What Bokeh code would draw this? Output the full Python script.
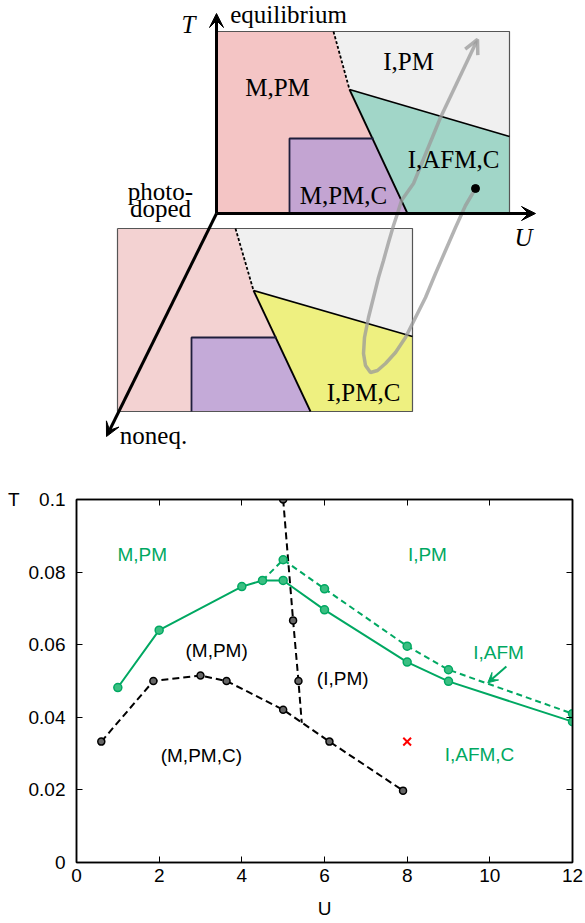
from bokeh.plotting import figure
from bokeh.layouts import column
from bokeh.models import (Range1d, LinearAxis, FixedTicker, Arrow, VeeHead,
                          OpenHead, ColumnDataSource)
from bokeh.core.properties import value
from bokeh.embed import file_html
from bokeh.resources import INLINE

# ================= bottom plot data =================
x_ticks = [0, 2, 4, 6, 8, 10, 12]
x_tick_labels = ["0", "2", "4", "6", "8", "10", "12"]
y_ticks = [0, 0.02, 0.04, 0.06, 0.08, 0.1]
y_tick_labels = ["0", "0.02", "0.04", "0.06", "0.08", "0.1"]

afm_solid_U = [1, 2, 4, 4.5, 5, 6, 8, 9, 12]
afm_solid_T = [0.0482, 0.0640, 0.0760, 0.0777, 0.0777, 0.0696, 0.0552, 0.0499, 0.0388]
afm_dash_U = [4.5, 5, 6, 8, 9, 12]
afm_dash_T = [0.0777, 0.0834, 0.0754, 0.0596, 0.0531, 0.0410]
mpmc_U = [0.6, 1.86, 3.0, 3.63, 5.0, 6.12, 7.9]
mpmc_T = [0.0333, 0.0500, 0.0515, 0.0500, 0.0421, 0.0333, 0.0198]
mit_U = [5.0, 5.24, 5.37, 5.45]
mit_T = [0.1, 0.0667, 0.0500, 0.0385]
mit_marker_count = 3
cross_U = [8.0]
cross_T = [0.0333]

plot_label_U = [1.59, 3.39, 8.49, 10.21, 6.44, 3.02, 9.75]
plot_label_T = [0.0848, 0.0584, 0.0848, 0.0579, 0.0507, 0.0295, 0.0298]
plot_label_text = ["M,PM", "(M,PM)", "I,PM", "I,AFM", "(I,PM)", "(M,PM,C)", "I,AFM,C"]
plot_label_color = ["green", "black", "green", "green", "black", "black", "green"]

afm_arrow_U = [10.4, 9.95]
afm_arrow_T = [0.0540, 0.0495]

y_name_tick = [0.1]
y_name = "T"
x_name = "U"

# ================= schematic data (page pixels) =================
eq_pink_x = [216, 333, 349, 407, 216]
eq_pink_y = [31, 31, 89, 213, 213]
eq_gray_x = [333, 509, 509, 349]
eq_gray_y = [31, 31, 136, 89]
eq_teal_x = [349, 509, 509, 407]
eq_teal_y = [89, 136, 213, 213]
eq_purple_x = [289, 373, 407, 289]
eq_purple_y = [138, 138, 213, 213]
eq_frame_x = [216, 509, 509]
eq_frame_y = [31, 31, 213]
eq_solid_xs = [[349, 407], [349, 509]]
eq_solid_ys = [[89, 213], [89, 136]]
eq_box_x = [289, 289, 373]
eq_box_y = [213, 138, 138]
eq_dash_x = [333, 349]
eq_dash_y = [31, 89]

ne_pink_x = [117, 235, 253, 310, 117]
ne_pink_y = [228, 228, 290, 411, 411]
ne_gray_x = [235, 412, 412, 253]
ne_gray_y = [228, 228, 336, 290]
ne_yellow_x = [253, 412, 412, 310]
ne_yellow_y = [290, 336, 411, 411]
ne_purple_x = [191, 276, 310, 191]
ne_purple_y = [337, 337, 411, 411]
ne_frame_x = [117, 412, 412, 117, 117]
ne_frame_y = [228, 228, 411, 411, 228]
ne_solid_xs = [[253, 310], [253, 412]]
ne_solid_ys = [[290, 411], [290, 336]]
ne_box_x = [191, 191, 276]
ne_box_y = [411, 337, 337]
ne_dash_x = [235, 253]
ne_dash_y = [228, 290]

axis_start = (216, 213)
axis_T_end = (216, 13)
axis_U_end = (535, 213)
axis_N_end = (106, 436)

traj_x = [475, 465, 455, 445, 435, 425, 415, 405, 395, 385, 377, 370, 365, 363,
          364, 368, 373, 378, 383, 388, 393, 397, 401, 413, 440]
traj_y = [188, 205, 227, 250, 273, 297, 317, 337, 352, 363, 370, 372, 365, 353,
          337, 317, 297, 277, 260, 242, 225, 213, 200, 183, 117]
traj_tip = (477, 39)
dot_x = [475]
dot_y = [188]

sch_text = ["equilibrium", "photo-", "doped", "noneq.", "I,PM", "M,PM",
            "I,AFM,C", "M,PM,C", "I,PM,C"]
sch_text_x = [288, 160, 160, 153, 408, 277, 453, 343, 363]
sch_text_y = [14, 191, 208, 435, 61, 87, 159, 195, 392]
sch_italic = ["T", "U"]
sch_italic_x = [188, 523]
sch_italic_y = [24, 237]

GREEN = "#00a862"
SERIF = "Liberation Serif"
SANS = "Liberation Sans"

# ================= layout geometry =================
W = 585
H1 = 460
H2 = 463
B_LEFT = 76
B_RIGHT = 13

# ================= schematic figure =================
top = figure(width=W, height=H1, x_range=Range1d(B_LEFT, W - B_RIGHT), y_range=Range1d(H1, 0),
             x_axis_type=None, y_axis_type=None, toolbar_location=None,
             output_backend="svg", min_border_left=B_LEFT, min_border_right=B_RIGHT,
             min_border_top=0, min_border_bottom=0, outline_line_color=None)
top.grid.visible = False

top.patch(ne_pink_x, ne_pink_y, fill_color="#f3d2d2", line_color=None)
top.patch(ne_gray_x, ne_gray_y, fill_color="#f0f0f0", line_color=None)
top.patch(ne_yellow_x, ne_yellow_y, fill_color="#eef080", line_color=None)
top.patch(ne_purple_x, ne_purple_y, fill_color="#c4aad8", line_color=None)
top.line(ne_frame_x, ne_frame_y, line_color="#555555", line_width=1.2)
top.multi_line(ne_solid_xs, ne_solid_ys, line_color="black", line_width=1.8)
top.line(ne_box_x, ne_box_y, line_color="#1e1e3c", line_width=1.8)
top.line(ne_dash_x, ne_dash_y, line_color="black", line_width=1.8, line_dash="3 2")

top.patch(eq_pink_x, eq_pink_y, fill_color="#f4c5c5", line_color=None)
top.patch(eq_gray_x, eq_gray_y, fill_color="#f0f0f0", line_color=None)
top.patch(eq_teal_x, eq_teal_y, fill_color="#a1d6c8", line_color=None)
top.patch(eq_purple_x, eq_purple_y, fill_color="#c3a4d2", line_color=None)
top.line(eq_frame_x, eq_frame_y, line_color="#555555", line_width=1.2)
top.multi_line(eq_solid_xs, eq_solid_ys, line_color="black", line_width=1.8)
top.line(eq_box_x, eq_box_y, line_color="#1e1e3c", line_width=1.8)
top.line(eq_dash_x, eq_dash_y, line_color="black", line_width=1.8, line_dash="3 2")

for end in (axis_T_end, axis_U_end, axis_N_end):
    top.add_layout(Arrow(x_start=axis_start[0], y_start=axis_start[1], x_end=end[0], y_end=end[1],
                         line_width=3, line_color="black",
                         end=VeeHead(size=14, fill_color="black", line_color="black")))

top.line(traj_x, traj_y, line_color="#9a9a9a", line_alpha=0.75, line_width=3.5)
top.add_layout(Arrow(x_start=traj_x[-1], y_start=traj_y[-1], x_end=traj_tip[0], y_end=traj_tip[1],
                     line_width=3.5, line_color="#9a9a9a", line_alpha=0.75,
                     end=OpenHead(size=14, line_color="#9a9a9a", line_alpha=0.75, line_width=3.5)))
top.scatter(dot_x, dot_y, size=8, color="black")

top.text(sch_text_x, sch_text_y, text=sch_text, text_font=value(SERIF), text_font_size="25px",
         text_align="center", text_baseline="middle", text_color="black")
top.text(sch_italic_x, sch_italic_y, text=sch_italic, text_font=value(SERIF), text_font_size="25px",
         text_font_style="italic", text_align="center", text_baseline="middle", text_color="black")

# ================= phase diagram figure =================
bot = figure(width=W, height=H2, x_range=Range1d(0, 12), y_range=Range1d(0, 0.1),
             toolbar_location=None, output_backend="svg",
             min_border_left=B_LEFT, min_border_right=B_RIGHT, min_border_top=39, min_border_bottom=61,
             outline_line_color="black", outline_line_width=1.5)
bot.grid.visible = False

for ax in (bot.xaxis[0], bot.yaxis[0]):
    ax.major_tick_in = 6
    ax.major_tick_out = 0
    ax.minor_tick_line_color = None
    ax.axis_line_width = 1.5
    ax.major_label_text_font = SANS
    ax.major_label_text_font_size = "19px"
    ax.major_label_text_color = "black"
bot.xaxis.ticker = FixedTicker(ticks=x_ticks)
bot.yaxis.ticker = FixedTicker(ticks=y_ticks)
bot.xaxis.major_label_overrides = {t: s for t, s in zip(x_ticks, x_tick_labels)}
bot.yaxis.major_label_overrides = {t: s for t, s in zip(y_ticks, y_tick_labels)}
bot.xaxis.major_label_standoff = 6
bot.yaxis.major_label_standoff = 11
bot.xaxis.axis_label = x_name
bot.xaxis.axis_label_text_font = SANS
bot.xaxis.axis_label_text_font_size = "19px"
bot.xaxis.axis_label_text_font_style = "normal"
bot.xaxis.axis_label_text_color = "black"
bot.xaxis.axis_label_standoff = 13

top_ax = LinearAxis(ticker=FixedTicker(ticks=x_ticks), major_label_text_font_size="0px",
                    major_label_standoff=0, major_tick_in=6, major_tick_out=0,
                    minor_tick_line_color=None, axis_line_width=1.5)
right_ax = LinearAxis(ticker=FixedTicker(ticks=y_ticks), major_label_text_font_size="0px",
                      major_label_standoff=0, major_tick_in=6, major_tick_out=0,
                      minor_tick_line_color=None, axis_line_width=1.5)
name_ax = LinearAxis(ticker=FixedTicker(ticks=y_name_tick),
                     major_label_overrides={y_name_tick[0]: y_name},
                     major_label_text_font=SANS, major_label_text_font_size="19px",
                     major_label_text_color="black", major_label_standoff=0,
                     axis_line_color=None, major_tick_line_color=None,
                     minor_tick_line_color=None)
bot.add_layout(top_ax, "above")
bot.add_layout(right_ax, "right")
bot.add_layout(name_ax, "left")

bot.line(mpmc_U, mpmc_T, line_color="black", line_width=2, line_dash="7 4")
bot.scatter(mpmc_U, mpmc_T, size=7, fill_color="#666666", line_color="black", line_width=1.5)
bot.line(mit_U, mit_T, line_color="black", line_width=2, line_dash="7 4")
bot.scatter(mit_U[:mit_marker_count], mit_T[:mit_marker_count], size=7, fill_color="#666666",
            line_color="black", line_width=1.5)

bot.line(afm_dash_U, afm_dash_T, line_color=GREEN, line_width=2, line_dash="6 4")
bot.scatter(afm_dash_U[1:], afm_dash_T[1:], size=8, fill_color="#3bbf82", line_color=GREEN, line_width=1.5)
bot.line(afm_solid_U, afm_solid_T, line_color=GREEN, line_width=2)
bot.scatter(afm_solid_U, afm_solid_T, size=8, fill_color="#3bbf82", line_color=GREEN, line_width=1.5)

bot.scatter(cross_U, cross_T, marker="x", size=11, line_color="red", line_width=2)

bot.add_layout(Arrow(x_start=afm_arrow_U[0], y_start=afm_arrow_T[0], x_end=afm_arrow_U[1], y_end=afm_arrow_T[1],
                     line_width=2, line_color=GREEN,
                     end=VeeHead(size=10, fill_color=GREEN, line_color=GREEN)))

lsrc = ColumnDataSource(dict(x=plot_label_U, y=plot_label_T, text=plot_label_text,
                             color=[GREEN if c == "green" else "black" for c in plot_label_color]))
bot.text("x", "y", text="text", source=lsrc, text_color="color", text_font=value(SANS),
         text_font_size="19px", text_align="center", text_baseline="middle")

layout = column(top, bot)
open("out.html", "w").write(file_html(layout, INLINE))
